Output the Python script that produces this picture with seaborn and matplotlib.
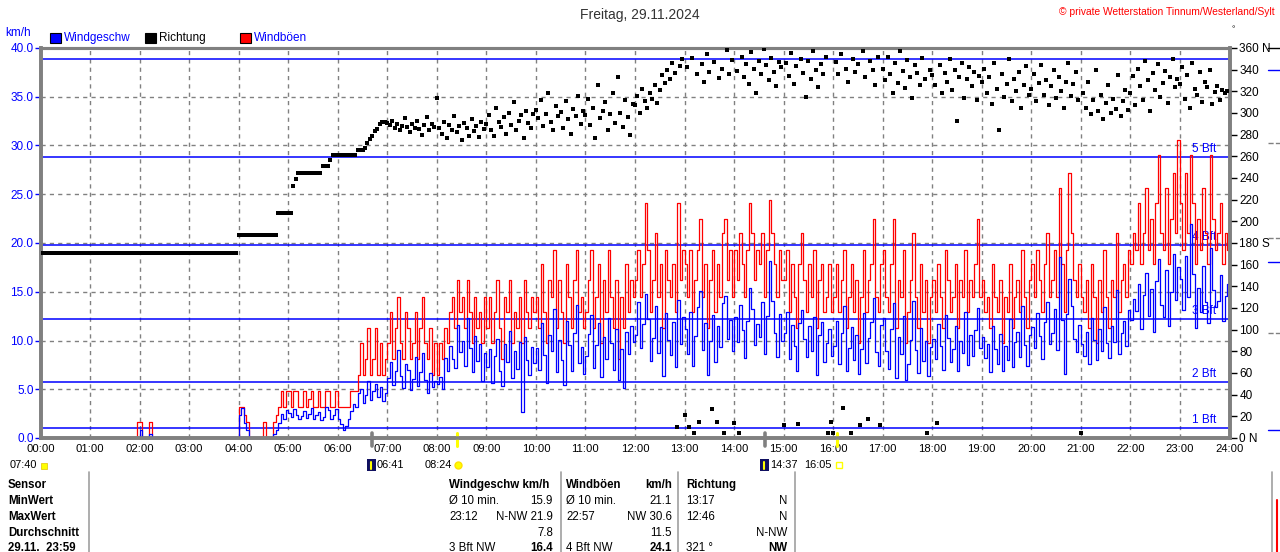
import numpy as np
import pandas as pd
import matplotlib
matplotlib.use("Agg")
import matplotlib.pyplot as plt
from matplotlib.lines import Line2D
from matplotlib.patches import Rectangle
import seaborn as sns

# ---------------- data: 3-minute readings, 20 per hour ----------------
wind_kmh = [
    0, 0, 0, 0, 0, 0, 0, 0, 0, 0, 0, 0, 0, 0, 0, 0, 0, 0, 0, 0,                       # 00
    0, 0, 0, 0, 0, 0, 0, 0, 0, 0, 0, 0, 0, 0, 0, 0, 0, 0, 0, 0,                       # 01
    0.8, 0, 0, 0, 0.4, 0, 0, 0, 0, 0, 0, 0, 0, 0, 0, 0, 0, 0, 0, 0,                   # 02
    0, 0, 0, 0, 0, 0, 0, 0, 0, 0, 0, 0, 0, 0, 0, 0, 0, 0, 0, 0,                       # 03
    2.4, 3.1, 1.5, 0.8, 0, 0, 0, 0, 0, 0, 0, 0, 0, 0, 0.4, 0.8, 1.5, 2.5, 2.0, 2.9,   # 04
    2.6, 2.2, 3.0, 2.4, 1.9, 2.3, 2.8, 2.1, 2.5, 3.1, 2.0, 2.4, 2.7, 1.8, 2.2, 3.2, 2.9, 2.0, 2.4, 3.0,  # 05
    2.0, 1.4, 0.8, 1.2, 2.0, 2.8, 3.5, 3.2, 4.6, 5.0, 3.6, 4.4, 5.8, 3.9, 4.8, 5.5, 4.2, 5.2, 3.8, 4.6,  # 06
    6.2, 7.8, 5.4, 6.9, 9.0, 6.4, 5.1, 7.6, 7.0, 4.9, 6.1, 8.3, 5.3, 6.8, 8.7, 6.0, 4.6, 6.7, 5.2, 5.8,  # 07
    5.5, 6.3, 5.0, 8.2, 6.9, 9.4, 8.1, 7.2, 11.6, 8.8, 9.9, 7.4, 12.3, 9.2, 6.8, 10.5, 7.9, 9.6, 5.8, 8.7,  # 08
    7.3, 9.1, 5.6, 8.4, 10.2, 6.9, 5.3, 9.6, 7.8, 11.0, 6.2, 8.9, 7.1, 9.8, 2.7, 10.4, 8.0, 6.5, 9.3, 7.7,  # 09
    9.2, 7.0, 11.8, 8.5, 5.6, 10.6, 8.9, 13.2, 6.8, 10.1, 8.0, 5.4, 12.0, 9.5, 6.9, 10.8, 13.6, 7.7, 9.3, 6.6,  # 10
    8.4, 10.7, 12.6, 7.2, 9.5, 11.8, 6.3, 10.4, 8.1, 12.3, 9.7, 7.0, 11.2, 5.9, 9.1, 5.1, 10.9, 8.6, 11.5, 9.8,  # 11
    10.6, 13.9, 9.2, 11.7, 14.8, 12.2, 7.9, 10.3, 13.5, 8.7, 11.4, 6.4, 12.8, 10.1, 8.5, 11.9, 7.3, 14.2, 9.6, 12.4,  # 12
    11.2, 8.6, 12.9, 7.4, 10.5, 13.4, 15.1, 9.0, 11.8, 6.5, 10.0, 12.6, 7.8, 11.5, 9.3, 13.8, 14.6, 10.2, 12.1, 8.9,  # 13
    12.4, 9.8, 13.6, 11.1, 8.2, 12.0, 15.4, 13.2, 9.5, 11.7, 10.4, 13.9, 8.6, 12.5, 18.2, 14.1, 10.8, 8.3, 12.7, 9.9,  # 14
    10.8, 12.9, 8.1, 11.6, 9.4, 6.9, 11.8, 13.1, 10.2, 8.3, 11.5, 8.9, 12.4, 6.5, 10.6, 11.9, 7.8, 9.7, 11.2, 8.4,  # 15
    9.4, 12.0, 7.6, 10.8, 13.5, 6.9, 9.2, 11.4, 8.0, 10.6, 6.6, 9.1, 12.8, 7.7, 10.3, 11.9, 14.4, 8.8, 7.4, 11.6,  # 16
    12.3, 8.9, 7.1, 11.2, 13.8, 6.2, 10.4, 8.6, 12.5, 5.9, 7.6, 10.1, 14.1, 9.0, 6.7, 11.3, 7.9, 10.0, 6.4, 9.3,  # 17
    10.2, 8.1, 11.7, 9.4, 7.0, 12.6, 10.3, 7.8, 9.1, 11.5, 6.9, 10.0, 8.7, 12.9, 7.5, 10.6, 8.4, 11.1, 13.3, 9.2,  # 18
    10.4, 8.2, 9.6, 6.8, 11.5, 9.1, 7.6, 10.7, 6.9, 9.4, 8.0, 12.2, 7.3, 9.8, 10.9, 8.3, 13.5, 9.5, 7.4, 10.6,  # 19
    11.4, 9.2, 12.8, 10.5, 8.1, 11.9, 14.0, 9.6, 10.8, 13.2, 9.0, 18.6, 12.1, 6.6, 12.7, 16.3, 13.5, 10.2, 8.8, 11.6,  # 20
    9.6, 8.4, 10.9, 7.6, 12.3, 10.1, 8.0, 11.2, 8.9, 13.4, 9.7, 8.2, 11.5, 9.8, 15.2, 8.6, 10.8, 12.0, 9.4, 13.1,  # 21
    12.1, 14.3, 13.0, 15.8, 11.2, 14.7, 16.9, 12.5, 15.3, 10.9, 16.1, 18.4, 13.6, 12.4, 17.2, 11.5, 15.0, 18.9, 14.2, 17.5,  # 22
    16.3, 13.1, 18.7, 14.5, 21.9, 16.8, 11.3, 15.4, 12.9, 17.6, 14.0, 11.8, 19.5, 15.2, 13.4, 14.1, 16.7, 12.0, 14.6, 15.8,  # 23
]

gust_kmh = [
    0, 0, 0, 0, 0, 0, 0, 0, 0, 0, 0, 0, 0, 0, 0, 0, 0, 0, 0, 0,                       # 00
    0, 0, 0, 0, 0, 0, 0, 0, 0, 0, 0, 0, 0, 0, 0, 0, 0, 0, 0, 1.6,                     # 01
    1.6, 0, 0, 0, 1.6, 0, 0, 0, 0, 0, 0, 0, 0, 0, 0, 0, 0, 0, 0, 0,                   # 02
    0, 0, 0, 0, 0, 0, 0, 0, 0, 0, 0, 0, 0, 0, 0, 0, 0, 0, 0, 0,                       # 03
    3.2, 3.2, 2.4, 1.6, 0, 0, 0, 0, 0, 0, 1.6, 0, 0, 0, 1.6, 2.4, 3.2, 4.8, 3.2, 4.8, # 04
    4.8, 3.2, 4.8, 4.8, 3.2, 3.2, 4.8, 3.2, 4.0, 4.8, 3.2, 3.2, 4.8, 3.2, 3.2, 4.8, 4.8, 3.2, 3.2, 4.8,  # 05
    3.2, 3.2, 3.2, 3.2, 3.2, 4.8, 4.8, 4.8, 6.5, 9.7, 6.5, 8.1, 11.3, 6.5, 8.1, 11.3, 6.5, 9.7, 6.5, 8.1,  # 06
    9.7, 12.9, 8.1, 11.3, 14.5, 9.7, 8.1, 12.9, 11.3, 8.1, 9.7, 12.9, 8.1, 11.3, 14.5, 9.7, 8.1, 11.3, 6.5, 9.7,  # 07
    6.5, 9.7, 8.1, 11.3, 9.7, 12.9, 14.5, 11.3, 16.2, 12.9, 14.5, 11.3, 16.2, 12.9, 9.7, 14.5, 11.3, 12.9, 9.7, 14.5,  # 08
    11.3, 14.5, 9.7, 12.9, 16.2, 11.3, 8.1, 14.5, 12.9, 16.2, 9.7, 12.9, 11.3, 14.5, 9.7, 16.2, 12.9, 11.3, 14.5, 12.9,  # 09
    14.5, 11.3, 17.8, 12.9, 9.7, 16.2, 14.5, 19.3, 11.3, 16.2, 12.9, 9.7, 17.8, 14.5, 11.3, 16.2, 19.3, 12.9, 14.5, 11.3,  # 10
    12.9, 16.2, 19.3, 11.3, 14.5, 17.8, 9.7, 16.2, 12.9, 19.3, 14.5, 11.3, 16.2, 8.1, 14.5, 11.3, 17.8, 12.9, 16.2, 14.5,  # 11
    16.2, 19.3, 14.5, 17.8, 24.1, 19.3, 12.9, 16.2, 21.0, 14.5, 17.8, 11.3, 19.3, 16.2, 14.5, 17.8, 12.9, 24.1, 16.2, 19.3,  # 12
    17.8, 14.5, 19.3, 12.9, 16.2, 19.3, 22.5, 14.5, 17.8, 11.3, 16.2, 19.3, 12.9, 17.8, 14.5, 21.0, 22.5, 16.2, 19.3, 14.5,  # 13
    19.3, 16.2, 21.0, 17.8, 14.5, 19.3, 24.1, 21.0, 16.2, 19.3, 17.8, 21.0, 14.5, 19.3, 24.4, 21.0, 17.8, 14.5, 19.3, 16.2,  # 14
    16.2, 19.3, 12.9, 17.8, 14.5, 11.3, 17.8, 21.0, 16.2, 12.9, 17.8, 14.5, 19.3, 11.3, 16.2, 17.8, 12.9, 14.5, 17.8, 12.9,  # 15
    14.5, 17.8, 12.9, 16.2, 19.3, 11.3, 14.5, 17.8, 12.9, 16.2, 9.7, 14.5, 19.3, 12.9, 16.2, 17.8, 22.5, 14.5, 12.9, 17.8,  # 16
    19.3, 14.5, 12.9, 17.8, 22.5, 11.3, 16.2, 14.5, 19.3, 9.7, 12.9, 16.2, 21.0, 14.5, 11.3, 17.8, 12.9, 16.2, 9.7, 14.5,  # 17
    16.2, 12.9, 17.8, 14.5, 11.3, 19.3, 16.2, 12.9, 14.5, 17.8, 11.3, 16.2, 14.5, 19.3, 12.9, 16.2, 14.5, 17.8, 22.5, 14.5,  # 18
    16.2, 12.9, 14.5, 11.3, 17.8, 14.5, 12.9, 16.2, 9.7, 14.5, 12.9, 17.8, 11.3, 14.5, 16.2, 12.9, 19.3, 14.5, 11.3, 16.2,  # 19
    17.8, 14.5, 19.3, 16.2, 12.9, 17.8, 21.0, 14.5, 16.2, 19.3, 14.5, 25.6, 17.8, 12.9, 19.3, 27.2, 21.0, 16.2, 14.5, 17.8,  # 20
    14.5, 12.9, 16.2, 11.3, 17.8, 14.5, 9.7, 16.2, 12.9, 19.3, 14.5, 11.3, 16.2, 14.5, 21.0, 12.9, 16.2, 17.8, 14.5, 19.3,  # 21
    17.8, 21.0, 19.3, 24.1, 17.8, 21.0, 25.6, 19.3, 22.5, 17.8, 24.1, 29.0, 21.0, 19.3, 25.6, 17.8, 22.5, 27.2, 21.0, 30.6,  # 22
    24.1, 19.3, 27.2, 21.0, 29.0, 24.1, 17.8, 22.5, 19.3, 25.6, 21.0, 17.8, 29.0, 22.5, 19.3, 21.0, 24.1, 17.8, 21.0, 19.3,  # 23
]

direction_deg = [
    171, 171, 171, 171, 171, 171, 171, 171, 171, 171, 171, 171, 171, 171, 171, 171, 171, 171, 171, 171,  # 00
    171, 171, 171, 171, 171, 171, 171, 171, 171, 171, 171, 171, 171, 171, 171, 171, 171, 171, 171, 171,  # 01
    171, 171, 171, 171, 171, 171, 171, 171, 171, 171, 171, 171, 171, 171, 171, 171, 171, 171, 171, 171,  # 02
    171, 171, 171, 171, 171, 171, 171, 171, 171, 171, 171, 171, 171, 171, 171, 171, 171, 171, 171, 171,  # 03
    187, 187, 187, 187, 187, 187, 187, 187, 187, 187, 187, 187, 187, 187, 187, 187, 208, 208, 208, 208,  # 04
    208, 208, 233, 239, 245, 245, 245, 245, 245, 245, 245, 245, 245, 245, 251, 251, 251, 257, 261, 261,  # 05
    261, 261, 261, 261, 261, 261, 261, 261, 266, 266, 266, 268, 272, 276, 279, 283, 285, 290, 292, 292,  # 06
    291, 289, 293, 286, 290, 284, 288, 295, 287, 282, 290, 286, 293, 285, 280, 289, 296, 284, 290, 287,  # 07
    314, 286, 281, 292, 277, 289, 284, 297, 282, 288, 275, 291, 286, 279, 294, 283, 288, 278, 292, 285,  # 08
    290, 298, 284, 279, 305, 292, 287, 296, 281, 300, 289, 310, 284, 293, 298, 277, 302, 291, 286, 299,  # 09
    303, 295, 312, 288, 299, 318, 292, 284, 306, 297, 301, 286, 311, 294, 281, 304, 297, 316, 290, 302,  # 10
    298, 313, 289, 305, 277, 326, 295, 302, 310, 284, 299, 318, 291, 333, 300, 287, 312, 296, 280, 308,  # 11
    307, 316, 300, 322, 311, 305, 318, 313, 326, 309, 321, 335, 328, 340, 331, 346, 337, 10, 343, 350,   # 12
    21, 342, 10, 351, 5, 336, 15, 345, 329, 354, 338, 27, 347, 15, 332, 341, 5, 358, 336, 349,          # 13
    14, 339, 5, 352, 333, 345, 327, 356, 341, 318, 348, 336, 359, 344, 330, 351, 338, 325, 347, 342,    # 14
    12, 346, 334, 355, 327, 343, 13, 350, 337, 315, 348, 331, 357, 340, 324, 345, 336, 352, 5, 15,      # 15
    5, 347, 336, 354, 28, 341, 329, 5, 350, 338, 345, 12, 357, 333, 18, 348, 340, 326, 352, 12,         # 16
    341, 330, 352, 336, 318, 346, 328, 357, 339, 323, 349, 333, 314, 344, 337, 326, 351, 331, 5, 340,   # 17
    335, 326, 14, 344, 318, 337, 329, 350, 321, 340, 293, 333, 346, 314, 331, 342, 325, 338, 312, 334,  # 18
    329, 341, 318, 333, 308, 346, 322, 284, 336, 315, 327, 350, 311, 331, 320, 338, 305, 326, 343, 317, # 19
    322, 336, 311, 328, 344, 317, 330, 307, 325, 340, 314, 333, 320, 305, 329, 346, 316, 327, 338, 312, # 20
    5, 318, 305, 329, 299, 312, 340, 302, 317, 294, 309, 326, 300, 313, 304, 335, 297, 311, 321, 303,   # 21
    318, 334, 307, 341, 325, 312, 348, 330, 302, 337, 321, 345, 315, 328, 339, 309, 333, 350, 324, 331, # 22
    327, 342, 313, 335, 305, 346, 322, 317, 338, 310, 329, 324, 340, 308, 319, 325, 312, 321, 318, 320, # 23
]

step_minutes = 3
hour_labels = [f"{h:02d}:00" for h in range(25)]
speed_ticks = [0, 5, 10, 15, 20, 25, 30, 35, 40]
dir_ticks = list(range(0, 361, 20))
dir_names = {0: "N", 180: "S", 360: "N"}
bft_limits = [1.0, 5.7, 12.2, 19.8, 28.8, 38.9]
bft_names = ["1 Bft", "2 Bft", "3 Bft", "4 Bft", "5 Bft", ""]
moon_events = [("06:41", 6.683), ("14:37", 14.617)]
sun_events = [("08:24", 8.40), ("16:05", 16.083)]

title = "Freitag, 29.11.2024"
credit = "\u00a9 private Wetterstation Tinnum/Westerland/Sylt"
legend_items = [("Windgeschw", "#0000ff"), ("Richtung", "#000000"), ("Windböen", "#ff0000")]

row_labels = ["Sensor", "MinWert", "MaxWert", "Durchschnitt", "29.11.  23:59"]
ws_left = ["Windgeschw km/h", "\u00d8 10 min.", "23:12", "", "3 Bft NW"]
ws_right = ["", "15.9", "N-NW 21.9", "7.8", "16.4"]
wb_left = ["Windböen", "\u00d8 10 min.", "22:57", "", "4 Bft NW"]
wb_right = ["km/h", "21.1", "NW 30.6", "11.5", "24.1"]
wd_left = ["Richtung", "13:17", "12:46", "", "321 \u00b0"]
wd_right = ["", "N", "N", "N-NW", "NW"]

# ---------------- frame ----------------
n = len(wind_kmh)
hours = np.arange(n) * step_minutes / 60.0
df = pd.DataFrame({"t": np.append(hours, 24.0),
                   "wind": wind_kmh + [wind_kmh[-1]],
                   "gust": gust_kmh + [gust_kmh[-1]]})
ddf = pd.DataFrame({"t": hours, "dir": direction_deg})

sns.set_theme(style="white")
plt.rcParams["font.family"] = ["Liberation Sans", "DejaVu Sans"]

W, H = 1280, 552
fig = plt.figure(figsize=(12.8, 5.52), dpi=100)
fig.patch.set_facecolor("white")

def fx(px):
    return px / W

def fy(py):
    return 1 - py / H

x0, x1, ytop, ybot = 40.5, 1229.5, 48, 438
ax = fig.add_axes([fx(x0), fy(ybot), (x1 - x0) / W, (ybot - ytop) / H])
ax.set_xlim(0, 24)
ax.set_ylim(0, 40)
ax.set_facecolor("white")

grid_c = "#808080"
for h in range(1, 24):
    ax.axvline(h, color=grid_c, lw=1, ls=(0, (3, 3)), zorder=0)
for v in speed_ticks[1:-1]:
    ax.axhline(v, color=grid_c, lw=1, ls=(0, (3, 3)), zorder=0)

for v, name in zip(bft_limits, bft_names):
    ax.axhline(v, color="#0000ff", lw=1.1, zorder=1)
    if name:
        ax.text(23.74, v + 0.25, name, ha="right", va="bottom", color="#0000ff",
                fontsize=8.5, zorder=1)

sns.lineplot(data=df, x="t", y="gust", ax=ax, color="#ff0000", lw=0.9,
             drawstyle="steps-post", estimator=None, sort=False, zorder=2)
sns.lineplot(data=df, x="t", y="wind", ax=ax, color="#0000ff", lw=0.9,
             drawstyle="steps-post", estimator=None, sort=False, zorder=3)

ax.set_xticks(range(25))
ax.set_xticklabels(hour_labels)
ax.set_yticks(speed_ticks)
ax.set_yticklabels([f"{v:.1f}" for v in speed_ticks])
ax.tick_params(axis="x", length=0, pad=4, labelsize=8.1, colors="black")
ax.tick_params(axis="y", length=4, width=1, pad=1, labelsize=8.5,
               colors="#0000ff", direction="out", left=True)
ax.set_xlabel("")
ax.set_ylabel("")

ax2 = ax.twinx()
ax2.set_ylim(0, 360)
sns.scatterplot(data=ddf, x="t", y="dir", ax=ax2, color="black", marker="s",
                s=5.5, linewidth=0, legend=False, zorder=4)
ax2.set_xlim(0, 24)
ax2.set_yticks(dir_ticks)
ax2.set_yticklabels([f"{v} {dir_names[v]}" if v in dir_names else f"{v}" for v in dir_ticks])
ax2.tick_params(axis="y", length=5, width=1, pad=2, labelsize=8.5, colors="black",
                direction="out", right=True)
ax2.set_ylabel("")

for a in (ax, ax2):
    for side in ("left", "right", "bottom"):
        a.spines[side].set_color(grid_c)
        a.spines[side].set_linewidth(2.6)
    a.spines["top"].set_color(grid_c)
    a.spines["top"].set_linewidth(2.2)

# sunrise / moon marks on the time axis
xt = ax.get_xaxis_transform()
for label, t in moon_events:
    ax.plot([t, t], [0.012, -0.02], color="#808080", lw=2.6, transform=xt,
            clip_on=False, zorder=5)
for label, t in sun_events:
    ax.plot([t, t], [0.012, -0.02], color="#ffff00", lw=2.2, transform=xt,
            clip_on=False, zorder=5)

# ---------------- header texts ----------------
fig.text(fx(640), fy(15), title, ha="center", va="center", fontsize=10, color="#333333")
fig.text(fx(1275), fy(12), credit, ha="right", va="center", fontsize=7.4, color="#ff0000")
fig.text(fx(5), fy(33), "km/h", ha="left", va="center", fontsize=8.5, color="#0000ff")
fig.text(fx(1231), fy(30), "\u00b0", ha="left", va="center", fontsize=6, color="black")

lx = [50, 145, 240]
for (name, col), px in zip(legend_items, lx):
    fig.add_artist(Rectangle((fx(px), fy(43)), 11 / W, 10 / H, transform=fig.transFigure,
                             facecolor=col, edgecolor="black", lw=0.8))
    tcol = "black" if name == "Richtung" else "#0000ff"
    fig.text(fx(px + 14), fy(38), name, ha="left", va="center", fontsize=8.5, color=tcol)

# ---------------- astro row ----------------
astro_y = 465
astro_fs = 7.9
fig.text(fx(10), fy(astro_y), "07:40", ha="left", va="center", fontsize=astro_fs, color="black")
fig.add_artist(Rectangle((fx(41), fy(astro_y + 4)), 6 / W, 6 / H, transform=fig.transFigure,
                         facecolor="#ffff00", edgecolor="#e0c000", lw=0.5))
for (label, t), px in zip(moon_events, [367, 760]):
    fig.add_artist(Rectangle((fx(px), fy(astro_y + 6)), 9 / W, 12 / H, transform=fig.transFigure,
                             facecolor="#101060", edgecolor="none"))
    fig.add_artist(Line2D([fx(px + 4), fx(px + 4)], [fy(astro_y + 4), fy(astro_y - 3)],
                          transform=fig.transFigure, color="#ffff00", lw=1.5))
    fig.text(fx(px + 10), fy(astro_y), label, ha="left", va="center", fontsize=astro_fs,
             color="black")
fig.text(fx(425), fy(astro_y), sun_events[0][0], ha="left", va="center", fontsize=astro_fs,
         color="black")
fig.add_artist(Line2D([fx(458)], [fy(astro_y)], marker="o", markersize=5, color="#ffff00",
                      markeredgecolor="#ffe000", transform=fig.transFigure))
fig.text(fx(804), fy(astro_y), sun_events[1][0], ha="left", va="center", fontsize=astro_fs,
         color="black")
fig.add_artist(Rectangle((fx(836), fy(astro_y + 3)), 6 / W, 6 / H, transform=fig.transFigure,
                         facecolor="white", edgecolor="#ffff00", lw=1))

# ---------------- table ----------------
for px in [89, 561, 678, 795, 1272]:
    fig.add_artist(Line2D([fx(px), fx(px)], [fy(472), fy(552)], transform=fig.transFigure,
                          color="#a0a0a0", lw=1.2))

row_y = [485, 501, 517, 533, 548]
for i, yy in enumerate(row_y):
    head = i == 0
    last = i == len(row_y) - 1
    fig.text(fx(8), fy(yy), row_labels[i], ha="left", va="center", fontsize=8.3,
             weight="bold", color="black")
    fig.text(fx(449), fy(yy), ws_left[i], ha="left", va="center", fontsize=8.3,
             weight="bold" if head else "normal", color="black")
    fig.text(fx(553), fy(yy), ws_right[i], ha="right", va="center", fontsize=8.3,
             weight="bold" if last else "normal", color="black")
    fig.text(fx(566), fy(yy), wb_left[i], ha="left", va="center", fontsize=8.3,
             weight="bold" if head else "normal", color="black")
    fig.text(fx(672), fy(yy), wb_right[i], ha="right", va="center", fontsize=8.3,
             weight="bold" if (head or last) else "normal", color="black")
    fig.text(fx(686), fy(yy), wd_left[i], ha="left", va="center", fontsize=8.3,
             weight="bold" if head else "normal", color="black")
    fig.text(fx(787), fy(yy), wd_right[i], ha="right", va="center", fontsize=8.3,
             weight="bold" if last else "normal", color="black")

# small remnants of the neighbouring panel on the right edge
for yy, col, ls in [(48, "black", "-"), (70, "#0000ff", "-"), (143, "#808080", "--"),
                    (238, "#808080", "--"), (262, "#0000ff", "-"), (333, "#808080", "--"),
                    (430, "#0000ff", "-")]:
    fig.add_artist(Line2D([fx(1268), fx(1280)], [fy(yy), fy(yy)], transform=fig.transFigure,
                          color=col, lw=1, ls=ls))
fig.add_artist(Line2D([fx(1277), fx(1277)], [fy(500), fy(552)], transform=fig.transFigure,
                      color="#ff0000", lw=1.5))

fig.savefig("out.png", dpi=100, facecolor="white")
